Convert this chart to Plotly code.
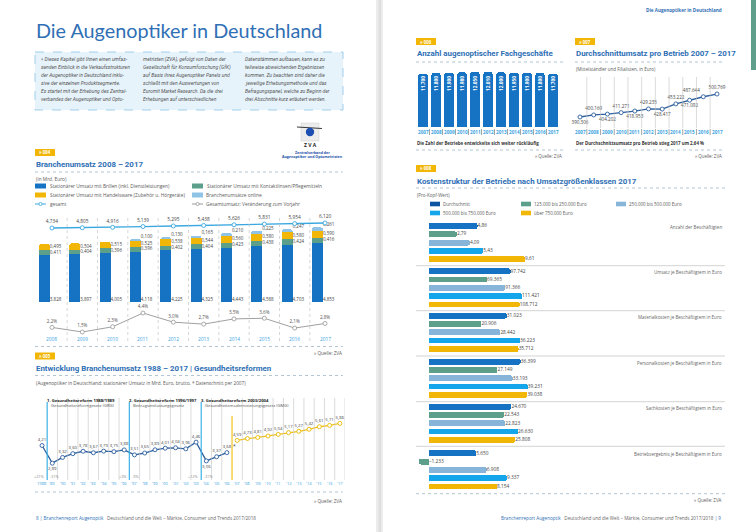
import plotly.graph_objects as go

W, H = 756, 532
F = "Open Sans"
FB = "Roboto"
C_TITLE = "#2f6fb5"
C_TXT = "#5a5a5a"
C_DARK = "#333333"
C_YEAR = "#3aa3e0"
C_DBLUE = "#0d55a3"
C_BLUE = "#1672c2"
C_BRIGHT = "#14a5ea"
C_GREEN = "#5c9f8b"
C_STEEL = "#86b5d9"
C_YELLOW = "#f1b606"
C_LIGHT = "#8fc4e6"
C_LINE = "#2d5f9e"
C_GRID = "#bdbdbd"
C_DOT = "#9fb6c8"

# ---------------- data ----------------
years_004 = [2008, 2009, 2010, 2011, 2012, 2013, 2014, 2015, 2016, 2017]
brillen = [3.828, 3.897, 4.005, 4.118, 4.225, 4.325, 4.443, 4.588, 4.703, 4.853]
kontakt = [0.411, 0.404, 0.396, 0.396, 0.402, 0.404, 0.423, 0.438, 0.424, 0.416]
handel = [0.495, 0.504, 0.515, 0.525, 0.538, 0.544, 0.560, 0.580, 0.580, 0.590]
online = [0, 0, 0, 0.100, 0.130, 0.165, 0.210, 0.225, 0.247, 0.261]
gesamt = [4.734, 4.805, 4.916, 5.139, 5.295, 5.438, 5.626, 5.831, 5.954, 6.120]
veraenderung = [2.2, 1.5, 2.3, 4.4, 3.0, 2.7, 3.5, 3.6, 2.1, 2.8]

years_005a = list(range(1988, 2007))
umsatz_005a = [4.21, 2.89, 3.32, 3.60, 3.78, 3.67, 3.79, 3.75, 3.88, 3.51, 3.65,
               3.89, 4.01, 4.04, 3.96, 4.46, 3.06, 3.37, 3.68]
years_005b = list(range(2007, 2018))
umsatz_005b = [4.59, 4.73, 4.81, 4.92, 5.04, 5.17, 5.27, 5.42, 5.61, 5.71, 5.86]
reformen = [(1988, 1989, "1. Gesundheitsreform 1988/1989", "Gesundheitsreformgesetz (GRG)", "+21%", "-31%"),
            (1996, 1997, "2. Gesundheitsreform 1996/1997", "Beitragsentlastungsgesetz", "+3%", "-9%"),
            (2003, 2004, "3. Gesundheitsreform 2003/2004", "Gesundheitsmodernisierungsgesetz (GMG)", "+12%", "-31%")]

years_006 = list(range(2007, 2018))
betriebe = [11700, 11800, 11900, 11980, 12050, 12010, 12000, 11950, 11900, 11800, 11700]

years_007 = list(range(2007, 2018))
umsatz_007 = [390306, 400169, 404202, 411271, 418953, 429235, 428417, 453222, 471092, 487644, 500769]

klassen = ["Durchschnitt", "125.000 bis 250.000 Euro", "250.000 bis 500.000 Euro",
           "500.000 bis 750.000 Euro", "über 750.000 Euro"]
kennzahlen = ["Anzahl der Beschäftigten", "Umsatz je Beschäftigtem in Euro",
              "Materialkosten je Beschäftigtem in Euro", "Personalkosten je Beschäftigtem in Euro",
              "Sachkosten je Beschäftigtem in Euro", "Betriebsergebnis je Beschäftigtem in Euro"]
anzahl = [4.86, 2.79, 4.09, 5.43, 9.61]
umsatz_je = [97742, 69365, 91366, 111421, 108712]
material = [31023, 20906, 28442, 36223, 35712]
personal = [36399, 27149, 33193, 39231, 39038]
sach = [24670, 22543, 22823, 26630, 25808]
ergebnis = [5650, -1233, 6908, 9337, 8154]

# ---------------- helpers ----------------
ann, shp, traces, lay = [], [], [], {}


def T(x, y, s, size=5, color=C_TXT, xa="left", ya="middle", bold=False, italic=False,
      family=F, xref="paper", yref="paper", angle=0, xshift=0, yshift=0):
    if xref == "paper":
        x = x / W
    if yref == "paper":
        y = 1 - y / H
    ann.append(dict(x=x, y=y, xref=xref, yref=yref, text=s, showarrow=False, xanchor=xa,
                    yanchor=ya, textangle=angle, borderpad=0, xshift=xshift, yshift=yshift,
                    font=dict(size=size, color=color, family=family,
                              weight="bold" if bold else "normal",
                              style="italic" if italic else "normal")))


def L(x0, y0, x1, y1, color=C_GRID, w=0.7, dash=None, xref="paper", yref="paper"):
    if xref == "paper":
        x0, x1 = x0 / W, x1 / W
    if yref == "paper":
        y0, y1 = 1 - y0 / H, 1 - y1 / H
    d = dict(type="line", x0=x0, x1=x1, y0=y0, y1=y1, xref=xref, yref=yref,
             line=dict(color=color, width=w))
    if dash:
        d["line"]["dash"] = dash
    shp.append(d)


def R(x0, y0, x1, y1, fill, lc=None, lw=0, dash=None):
    d = dict(type="rect", x0=x0 / W, x1=x1 / W, y0=1 - y0 / H, y1=1 - y1 / H, xref="paper",
             yref="paper", fillcolor=fill, line=dict(width=lw, color=lc or fill), layer="below")
    if dash:
        d["line"]["dash"] = dash
    shp.append(d)


def C(cx, cy, r, fill, lc=None, lw=0):
    shp.append(dict(type="circle", x0=(cx - r) / W, x1=(cx + r) / W, y0=1 - (cy + r) / H,
                    y1=1 - (cy - r) / H, xref="paper", yref="paper", fillcolor=fill,
                    line=dict(width=lw, color=lc or fill)))


def axes(n, x0, x1, y0, y1, xr, yr):
    s = "" if n == 1 else str(n)
    lay["xaxis" + s] = dict(domain=[x0 / W, x1 / W], range=xr, visible=False, fixedrange=True,
                            anchor="y" + s)
    lay["yaxis" + s] = dict(domain=[1 - y1 / H, 1 - y0 / H], range=yr, visible=False,
                            fixedrange=True, anchor="x" + s)
    return "x" + s, "y" + s


def de(v, d):
    return f"{v:.{d}f}".replace(".", ",")


def de_k(v):
    s = f"{abs(v):,}".replace(",", ".")
    return ("–" if v < 0 else "") + s


def badge(x, y, s):
    R(x, y - 3.5, x + 20, y + 3.5, C_YELLOW)
    T(x + 10, y, s, size=4.3, color="white", xa="center", bold=True)


def title(x, y, s):
    T(x, y, s, size=7.9, color=C_TITLE, bold=True, family=FB)


def dotted(x0, x1, y):
    L(x0, y, x1, y, C_DOT, 0.8, "dot")


# ---------------- page decoration ----------------
R(376, 0, 383, H, "#ececec")
R(378.5, 0, 381, H, "#dedede")
R(751, 0, 756, 70, "#5f9f8c")

# ---------------- left page ----------------
T(35, 30, "Die Augenoptiker in Deutschland", size=19.8, color=C_TITLE, family="Lato")
R(35, 52, 343, 110, "#e7f3fb", "#8ec3e6", 0.8, "dash")
col1 = ["» Dieses Kapitel gibt Ihnen einen umfas-", "senden Einblick in die Verkaufsstrukturen",
        "der Augenoptiker in Deutschland inklu-", "sive der einzelnen Produktsegmente.",
        "Es startet mit der Erhebung des Zentral-", "verbandes der Augenoptiker und Opto-"]
col2 = ["metristen (ZVA), gefolgt von Daten der", "Gesellschaft für Konsumforschung (GfK)",
        "auf Basis ihres Augenoptiker Panels und", "schließt mit den Auswertungen von",
        "Euromit Market Research. Da die drei", "Erhebungen auf unterschiedlichen"]
col3 = ["Datenstämmen aufbauen, kann es zu", "teilweise abweichenden Ergebnissen",
        "kommen. Zu beachten sind daher die", "jeweilige Erhebungsmethode und das",
        "Befragungspanel, welche zu Beginn der", "drei Abschnitte kurz erläutert werden."]
for cx, col in [(40, col1), (142, col2), (244, col3)]:
    for i, line in enumerate(col):
        T(cx, 59.3 + 7.93 * i, line, size=5, color="#555", italic=True, family=FB)

# ZVA logo
R(301, 123, 319, 141, "#ececec", "#cfcfcf", 0.5)
L(297, 127, 322, 128.5, "#222", 0.9)
C(310, 132, 4.2, "#1d4fb3")
T(310, 145, "Z V A", size=5, color="#222", xa="center", bold=True)
T(312, 152, "Zentralverband der", size=3.6, color="#2050a8", xa="center", bold=True)
T(312, 156.5, "Augenoptiker und Optometristen", size=3.6, color="#2050a8", xa="center", bold=True)

# ---- chart 004 ----
badge(35, 152.5, "» 004")
title(35, 164, "Branchenumsatz 2008 – 2017")
dotted(35, 343, 172)
T(35, 178.5, "(in Mrd. Euro)", size=4.8)
leg = [(35, 186, C_BLUE, "Stationärer Umsatz mit Brillen (inkl. Dienstleistungen)"),
       (192, 186, C_GREEN, "Stationärer Umsatz mit Kontaktlinsen/Pflegemitteln"),
       (35, 195, C_YELLOW, "Stationärer Umsatz mit Handelsware (Zubehör u. Hörgeräte)"),
       (192, 195, C_LIGHT, "Branchenumsätze online")]
for x, y, c, s in leg:
    R(x, y - 2.5, x + 11, y + 2.5, c)
    T(x + 13.5, y, s, size=4.8)
L(35, 204, 46, 204, "#3aa8e0", 1)
C(40.5, 204, 1.6, "white", "#3aa8e0", 0.8)
T(48.5, 204, "gesamt", size=4.8)
L(192, 204, 203, 204, "#9a9a9a", 1)
C(197.5, 204, 1.6, "white", "#9a9a9a", 0.8)
T(205.5, 204, "Gesamtumsatz: Veränderung zum Vorjahr", size=4.8)

xa, ya = axes(1, 36.8, 340.2, 215, 342, [2007.5, 2017.5], [-40 / 12.2, 87 / 12.2])
for vals, col in [(brillen, C_BLUE), (kontakt, C_GREEN), (handel, C_YELLOW), (online, C_LIGHT)]:
    traces.append(go.Bar(x=years_004, y=vals, width=0.36, offset=-0.43,
                         marker=dict(color=col, line=dict(width=0)), xaxis=xa, yaxis=ya,
                         hoverinfo="skip"))
lx = [y - 0.07 for y in years_004]
lab_x, lab_y, lab_t = [], [], []
for i in range(len(years_004)):
    lab_y += [0.2, brillen[i] + kontakt[i] / 2, brillen[i] + kontakt[i] + handel[i] / 2]
    lab_t += [de(brillen[i], 3), de(kontakt[i], 3), de(handel[i], 3)]
    lab_x += [lx[i]] * 3
    if online[i] > 0:
        lab_y.append(gesamt[i] + 0.2)
        lab_t.append(de(online[i], 3))
        lab_x.append(lx[i])
traces.append(go.Scatter(x=lab_x, y=lab_y, text=lab_t, mode="text", textposition="middle right",
                         textfont=dict(size=4.5, color="#444", family=F), xaxis=xa, yaxis=ya,
                         hoverinfo="skip", cliponaxis=False))
g0 = 4.734 - 114 / 3.6
xa2, ya2 = axes(2, 36.8, 340.2, 215, 342, [2007.5, 2017.5], [g0, g0 + 127 / 3.6])
traces.append(go.Scatter(x=years_004, y=gesamt, mode="lines+markers+text",
                         text=[de(v, 3) for v in gesamt], textposition="top center",
                         textfont=dict(size=4.8, color="#444", family=F),
                         line=dict(color="#3aa8e0", width=1.3),
                         marker=dict(size=4, color="white", line=dict(color="#3aa8e0", width=0.9)),
                         xaxis=xa2, yaxis=ya2, hoverinfo="skip", cliponaxis=False))
vmin = 4.4 - 29 / 6.55
xa3, ya3 = axes(3, 36.8, 340.2, 215, 342, [2007.5, 2017.5], [vmin, vmin + 127 / 6.55])
traces.append(go.Scatter(x=years_004, y=veraenderung, mode="lines+markers+text",
                         text=[de(v, 1) + "%" for v in veraenderung], textposition="top center",
                         textfont=dict(size=4.6, color="#555", family=F),
                         line=dict(color="#a0a0a0", width=1),
                         marker=dict(size=4, color="white", line=dict(color="#a0a0a0", width=0.9)),
                         xaxis=xa3, yaxis=ya3, hoverinfo="skip", cliponaxis=False))
for y in years_004:
    T(y, 339, str(y), size=4.8, color=C_YEAR, xa="center", xref="x")
for y in years_004[:-1]:
    L(y + 0.5, 218, y + 0.5, 343, "#c4c4c4", 0.7, "dot", xref="x")
dotted(35, 343, 346.5)
T(343, 353, "» Quelle: ZVA", size=4.6, xa="right")

# ---- chart 005 ----
badge(35, 356, "» 005")
title(35, 368, "Entwicklung Branchenumsatz 1988 – 2017 | Gesundheitsreformen")
dotted(35, 343, 375.5)
T(35, 383, "(Augenoptiker in Deutschland; stationärer Umsatz in Mrd. Euro, brutto, * Datenschnitt per 2007)", size=4.7)
ymin5 = 4.21 - 36.5 / 13.4
xa4, ya4 = axes(4, 36.9, 345, 395, 482, [1987.5, 2017.5], [ymin5, ymin5 + 87 / 13.4])
reform_mid = [(a + b) / 2 for a, b, *_ in reformen]
gelb_mid = (years_005a[-1] + years_005b[0]) / 2
for y in range(1988, 2018):
    m = y + 0.5
    if m in reform_mid or m == gelb_mid:
        continue
    L(m, 398, m, 480, "#c2c2c2", 0.6, xref="x4")
for a, b, t1, t2, p1, p2 in reformen:
    m = (a + b) / 2
    L(m, 402, m, 480, "#3cb2e6", 1.2, xref="x4")
    T(m, 400, t1, size=4.2, color="#222", bold=True, xref="x4", xshift=-1)
    T(m, 405.5, t2, size=4.2, color="#555", xref="x4", xshift=3)
    T(m, 476, p1, size=3.8, color="#888", xa="right", xref="x4", xshift=-2)
    T(m, 476, p2, size=3.8, color="#888", xa="left", xref="x4", xshift=2)
L(gelb_mid, 416, gelb_mid, 480, "#f1c21b", 1.2, xref="x4")
pos_a = ["top center"] * len(years_005a)
pos_a[1] = "bottom center"
pos_a[16] = "bottom center"
traces.append(go.Scatter(x=years_005a, y=umsatz_005a, mode="lines+markers+text",
                         text=[de(v, 2) for v in umsatz_005a], textposition=pos_a,
                         textfont=dict(size=4.3, color="#444", family=F),
                         line=dict(color=C_LINE, width=1.3),
                         marker=dict(size=4, color="white", line=dict(color=C_LINE, width=0.9)),
                         xaxis=xa4, yaxis=ya4, hoverinfo="skip", cliponaxis=False))
traces.append(go.Scatter(x=years_005b, y=umsatz_005b, mode="lines+markers+text",
                         text=[de(v, 2) for v in umsatz_005b], textposition="top center",
                         textfont=dict(size=4.3, color="#444", family=F),
                         line=dict(color="#f1c21b", width=1.3),
                         marker=dict(size=4, color="white", line=dict(color="#e8b800", width=0.9)),
                         xaxis=xa4, yaxis=ya4, hoverinfo="skip", cliponaxis=False))
T(years_005b[0], umsatz_005b[0], "*", size=5, color="#444", xa="center", xref="x4", yref="y4",
  xshift=-3, yshift=-6)
for y in range(1988, 2018):
    T(y, 483.5, str(y) if y == 1988 else f"'{y % 100:02d}", size=4.1, color=C_YEAR, xa="center", xref="x4")
dotted(35, 343, 492)
T(343, 501, "» Quelle: ZVA", size=4.6, xa="right")
T(35, 518, "<span style='color:#2f6fb5'>8 | Branchenreport Augenoptik</span>   Deutschland und die Welt – Märkte, Consumer und Trends 2017/2018",
  size=4.6, color="#666")

# ---------------- right page ----------------
T(723, 10, "Die Augenoptiker in Deutschland", size=4.6, color=C_TITLE, xa="right", bold=True)

# ---- chart 006 ----
badge(416, 41.5, "» 006")
title(416, 53, "Anzahl augenoptischer Fachgeschäfte")
dotted(416, 566, 62)
xa5, ya5 = axes(5, 416.5, 559.5, 72, 127, [2006.5, 2017.5], [0, 12060])
traces.append(go.Bar(x=years_006, y=betriebe, width=0.72, marker=dict(color=C_BLUE, line=dict(width=0)),
                     xaxis=xa5, yaxis=ya5, hoverinfo="skip"))
for y, v in zip(years_006, betriebe):
    T(y, 84, de_k(v), size=4.8, color="white", xa="center", angle=-90, xref="x5", bold=True)
for y in years_006:
    T(y, 132, str(y), size=4.6, color=C_YEAR, xa="center", xref="x5", bold=True)
for y in years_006[:-1]:
    L(y + 0.5, 129, y + 0.5, 135, "#666", 0.6, xref="x5")
T(416, 143, "Die Zahl der Betriebe entwickelte sich weiter rückläufig", size=4.4, color=C_DARK, bold=True)
dotted(416, 563, 150)
T(563, 156, "» Quelle: ZVA", size=4.4, xa="right")

# ---- chart 007 ----
badge(575, 41.5, "» 007")
title(575, 53, "Durchschnittumsatz pro Betrieb 2007 – 2017")
dotted(575, 724, 62)
T(575, 68.5, "(Mittelständler und Filialisten, in Euro)", size=4.5)
s7 = 0.000208
lo7 = 390306 - 11 / s7
xa6, ya6 = axes(6, 573.15, 723.85, 77, 128, [2006.5, 2017.5], [lo7, lo7 + 51 / s7])
for y in years_007[:-1]:
    L(y + 0.5, 77, y + 0.5, 128, "#c2c2c2", 0.6, xref="x6")
pos7 = ["bottom center", "top center"] * 4 + ["bottom center", "top left", "top center"]
traces.append(go.Scatter(x=years_007, y=umsatz_007, mode="lines+markers+text",
                         text=[de_k(v) for v in umsatz_007], textposition=pos7,
                         textfont=dict(size=4.6, color="#444", family=F),
                         line=dict(color=C_LINE, width=1.3),
                         marker=dict(size=4, color="white", line=dict(color=C_LINE, width=0.9)),
                         xaxis=xa6, yaxis=ya6, hoverinfo="skip", cliponaxis=False))
for y in years_007:
    T(y, 132, str(y), size=4.6, color=C_YEAR, xa="center", xref="x6", bold=True)
for y in years_007[:-1]:
    L(y + 0.5, 129, y + 0.5, 135, "#666", 0.6, xref="x6")
T(575, 143, "Der Durchschnittsumsatz pro Betrieb stieg 2017 um 2,64 %", size=4.4, color=C_DARK, bold=True)
dotted(575, 724, 150)
T(723, 156, "» Quelle: ZVA", size=4.4, xa="right")

# ---- chart 008 ----
badge(416, 168.5, "» 008")
title(416, 181, "Kostenstruktur der Betriebe nach Umsatzgrößenklassen 2017")
dotted(416, 725, 188)
T(416, 194.5, "(Pro-Kopf-Wert)", size=4.5)
farben = [C_DBLUE, C_GREEN, C_STEEL, C_BRIGHT, C_YELLOW]
leg_pos = [(430, 204), (521, 204), (616, 204), (430, 213), (521, 213)]
for (x, y), c, s in zip(leg_pos, farben, klassen):
    R(x, y - 2.3, x + 10, y + 2.3, c)
    T(x + 12, y, s, size=4.5)
gruppen = [anzahl, umsatz_je, material, personal, sach, ergebnis]
skalen = [10, 0.000835, 0.00251, 0.00252, 0.00334, 0.00835]
first_y = [226, 271.3, 315.7, 361.7, 406.7, 453.3]
bar_farben = [C_BLUE, C_GREEN, C_STEEL, C_BRIGHT, C_YELLOW]
for g, (vals, sc, fy, name) in enumerate(zip(gruppen, skalen, first_y, kennzahlen)):
    xa_g, ya_g = axes(7 + g, 416, 725, fy - 4.15, fy + 4 * 8.3 + 4.15,
                      [-(429 - 416) / sc, (725 - 429) / sc], [4.5, -0.5])
    idx = list(range(len(vals)))
    traces.append(go.Bar(x=vals, y=idx, orientation="h", width=0.7,
                         marker=dict(color=bar_farben, line=dict(width=0)),
                         xaxis=xa_g, yaxis=ya_g, hoverinfo="skip"))
    txt = [de(v, 2) for v in vals] if g == 0 else [de_k(v) for v in vals]
    traces.append(go.Scatter(x=[max(v, 0) for v in vals], y=idx, text=txt, mode="text",
                             textposition="middle right",
                             textfont=dict(size=4.8, color="#444", family=F),
                             xaxis=xa_g, yaxis=ya_g, hoverinfo="skip", cliponaxis=False))
    T(723, fy + 1, name, size=4.5, color="#666", xa="right")
for y in [265.7, 310.7, 356, 401.7, 446.3]:
    L(416, y, 725, y, "#c8c8c8", 0.8)
dotted(416, 725, 493.7)
T(723, 500, "» Quelle: ZVA", size=4.5, xa="right")
T(722, 518, "<span style='color:#2f6fb5'>Branchenreport Augenoptik</span>   Deutschland und die Welt – Märkte, Consumer und Trends 2017/2018 <span style='color:#2f6fb5'>| 9</span>",
  size=4.6, color="#666", xa="right")

fig = go.Figure(data=traces)
fig.update_layout(width=W, height=H, margin=dict(l=0, r=0, t=0, b=0), autosize=False,
                  paper_bgcolor="white", plot_bgcolor="rgba(0,0,0,0)", showlegend=False,
                  barmode="stack", barcornerradius=2, annotations=ann, shapes=shp,
                  font=dict(family=F), template="none", **lay)
fig.write_html("out.html", config={"displayModeBar": False, "staticPlot": True},
               post_script="document.body.style.margin='0';")
